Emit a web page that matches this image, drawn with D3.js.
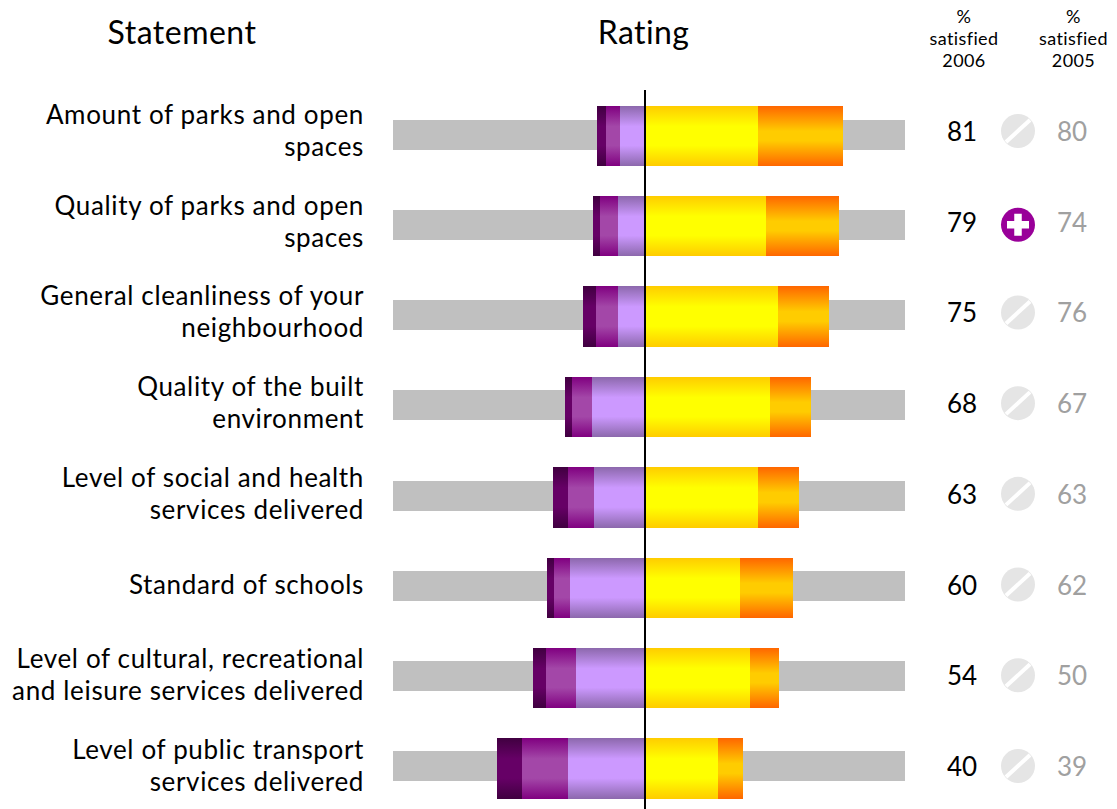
<!DOCTYPE html>
<html>
<head>
<meta charset="utf-8">
<script src="https://cdn.jsdelivr.net/npm/d3@7"></script>
<style>
  html, body { margin: 0; padding: 0; background: #fff; }
  svg { display: block; }
  text { font-family: Lato, "Open Sans", sans-serif; fill: #000; }
</style>
</head>
<body>
<svg id="chart" width="1117" height="809"></svg>
<script>
var statements = [
  ["Amount of parks and open", "spaces"],
  ["Quality of parks and open", "spaces"],
  ["General cleanliness of your", "neighbourhood"],
  ["Quality of the built", "environment"],
  ["Level of social and health", "services delivered"],
  ["Standard of schools"],
  ["Level of cultural, recreational", "and leisure services delivered"],
  ["Level of public transport", "services delivered"]
];

// percent
var neither = [10.2, 11, 11, 21.6, 20.8, 30.6, 28.2, 31.4];
var fairlyDis = [5.7, 7.3, 9, 8.2, 10.6, 6.5, 12.2, 18.8];
var veryDis = [3.7, 2.9, 5.3, 2.9, 6.1, 2.9, 5.3, 10.2];
var fairlySat = [46.1, 49.4, 54.3, 51, 46.1, 38.8, 42.9, 29.8];
var verySat = [34.7, 29.8, 20.8, 16.7, 16.7, 21.6, 11.8, 10.2];

var sat2006 = [81, 79, 75, 68, 63, 60, 54, 40];
var sat2005 = [80, 74, 76, 67, 63, 62, 50, 39];
var changes = ["same", "up", "same", "same", "same", "same", "same", "same"];

var grads = [
  { id: "g-neither", end: "#8c68ac", mid: "#cc99ff", flat: 0.34 },
  { id: "g-fairlyDis", end: "#800080", mid: "#a347a8", flat: 0.34 },
  { id: "g-veryDis", end: "#400040", mid: "#660066", flat: 0.34 },
  { id: "g-fairlySat", end: "#ffcc00", mid: "#ffff00", flat: 0.34 },
  { id: "g-verySat", end: "#ff6600", mid: "#ffcc00", flat: 0.42 }
];

var svg = d3.select("#chart");
var rows = d3.range(statements.length);

var x = d3.scaleLinear().domain([-102.9, 106.1]).range([393, 905]);
// stacked bars
var y = d3.scaleBand().domain(rows)
  .range([106, 799.4]).paddingInner(0.332).paddingOuter(0);
// gray bands sit on a slightly tighter pitch than the bars
var yBack = d3.scaleBand().domain(rows)
  .range([120.5, 782]).paddingInner(0.662).paddingOuter(0);
// text and icon rows
var yMid = d3.scalePoint().domain(rows).range([131, 766]);

var defs = svg.append("defs");
grads.forEach(function (g) {
  var lg = defs.append("linearGradient").attr("id", g.id)
    .attr("x1", 0).attr("y1", 0).attr("x2", 0).attr("y2", 1);
  [[0, g.end], [g.flat, g.mid], [1 - g.flat, g.mid], [1, g.end]].forEach(function (s) {
    lg.append("stop").attr("offset", s[0]).attr("stop-color", s[1]);
  });
});

// gray background bands
svg.append("g").selectAll("rect").data(rows).join("rect")
  .attr("x", x.range()[0])
  .attr("width", x.range()[1] - x.range()[0])
  .attr("y", function (i) { return Math.floor(yBack(i)); })
  .attr("height", 30)
  .attr("fill", "#c0c0c0");

function drawStack(values, base, sign, gradId) {
  svg.append("g").selectAll("rect").data(values).join("rect")
    .attr("x", function (d, i) {
      var a = x(base[i]), b = x(base[i] + sign * d);
      return Math.round(Math.min(a, b));
    })
    .attr("width", function (d, i) {
      var a = Math.round(x(base[i])), b = Math.round(x(base[i] + sign * d));
      return Math.abs(b - a);
    })
    .attr("y", function (d, i) { return Math.floor(y(i)); })
    .attr("height", function (d, i) { return Math.floor(y(i) + y.bandwidth()) - Math.floor(y(i)); })
    .attr("fill", "url(#" + gradId + ")");
}

var zero = rows.map(function () { return 0; });
var negA = neither.map(function (d) { return -d; });
var negB = neither.map(function (d, i) { return -d - fairlyDis[i]; });
drawStack(neither, zero, -1, "g-neither");
drawStack(fairlyDis, negA, -1, "g-fairlyDis");
drawStack(veryDis, negB, -1, "g-veryDis");
drawStack(fairlySat, zero, 1, "g-fairlySat");
drawStack(verySat, fairlySat, 1, "g-verySat");

// zero line
svg.append("line")
  .attr("x1", Math.round(x(0))).attr("x2", Math.round(x(0)))
  .attr("y1", 90).attr("y2", 809)
  .attr("stroke", "#000").attr("stroke-width", 2);

// statement labels
var labels = svg.append("g").selectAll("text").data(statements).join("text")
  .attr("text-anchor", "end")
  .attr("font-size", 26)
  .attr("letter-spacing", 0.65);
labels.each(function (lines, i) {
  var first = lines.length > 1 ? yMid(i) - 7 : yMid(i) + 9;
  d3.select(this).selectAll("tspan").data(lines).join("tspan")
    .attr("x", 364)
    .attr("y", function (d, j) { return first + j * 32; })
    .text(function (d) { return d; });
});

// headers
svg.append("text").attr("x", 182).attr("y", 44).attr("text-anchor", "middle")
  .attr("font-size", 32).attr("letter-spacing", 0.5).text("Statement");
svg.append("text").attr("x", 643.5).attr("y", 44).attr("text-anchor", "middle")
  .attr("font-size", 32).attr("letter-spacing", 0.4).text("Rating");

function smallHead(cx, year) {
  [["%", 23], ["satisfied", 45], [year, 67]].forEach(function (t) {
    svg.append("text").attr("x", cx).attr("y", t[1]).attr("text-anchor", "middle")
      .attr("font-size", 18).attr("letter-spacing", 0.4).text(t[0]);
  });
}
smallHead(964, "2006");
smallHead(1073.5, "2005");

// value columns
svg.append("g").selectAll("text").data(sat2006).join("text")
  .attr("x", 962).attr("y", function (d, i) { return yMid(i) + 10; })
  .attr("text-anchor", "middle").attr("font-size", 26)
  .text(function (d) { return d; });
svg.append("g").selectAll("text").data(sat2005).join("text")
  .attr("x", 1072).attr("y", function (d, i) { return yMid(i) + 10; })
  .attr("text-anchor", "middle").attr("font-size", 26)
  .style("fill", "#a0a0a0")
  .text(function (d) { return d; });

// change icons
var icons = svg.append("g").selectAll("g").data(changes).join("g")
  .attr("transform", function (d, i) {
    return "translate(1018," + (yMid(i) + (d === "up" ? 3 : 0)) + ")";
  });
icons.append("circle").attr("r", 17)
  .attr("fill", function (d) { return d === "up" ? "#990099" : "#e5e5e5"; });
icons.filter(function (d) { return d === "same"; }).append("line")
  .attr("x1", -12).attr("y1", 11).attr("x2", 12).attr("y2", -11)
  .attr("stroke", "#fff").attr("stroke-width", 4);
icons.filter(function (d) { return d === "up"; }).append("path")
  .attr("d", "M-11,0H11M0,-11V11")
  .attr("stroke", "#fff").attr("stroke-width", 7.5).attr("fill", "none");
</script>
</body>
</html>
